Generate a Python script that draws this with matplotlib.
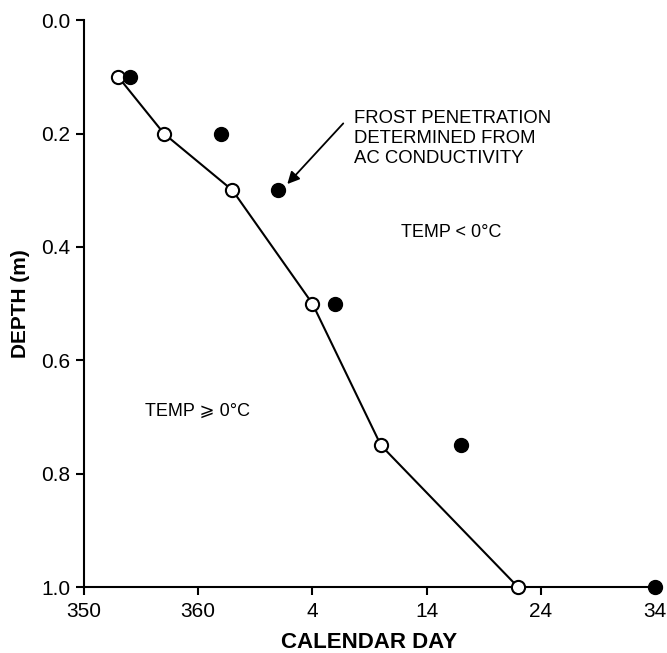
import matplotlib
matplotlib.use('Agg')
import matplotlib.pyplot as plt

plt.rcParams['font.family'] = ['Liberation Sans', 'DejaVu Sans']

# depth (m) of the frost front
depth = [0.1, 0.2, 0.3, 0.5, 0.75, 1.0]
# calendar days, temperature derived (open) and ac conductivity (filled)
temp_days = [353, 357, 363, 4, 10, 22]
ac_days = [354, 362, 367, 6, 17, 34]
tick_days = [350, 360, 4, 14, 24, 34]


def unwrap(days):
    # days after new year continue past 366
    return [d + 366 if d < 300 else d for d in days]


fig = plt.figure(figsize=(6.67, 6.53), dpi=100)
ax = fig.add_axes([0.126, 0.101, 0.856, 0.868])

ax.plot(unwrap(temp_days), depth, color='black', lw=1.5, zorder=2, clip_on=False)
ax.plot(unwrap(temp_days), depth, 'o', ms=9.5, mfc='white', mec='black', mew=1.5,
        zorder=3, clip_on=False)
ax.plot(unwrap(ac_days), depth, 'o', ms=10, color='black', zorder=3, clip_on=False)

ax.set_xlim(350, 400)
ax.set_ylim(1.0, 0.0)
ax.set_xticks(unwrap(tick_days))
ax.set_xticklabels([str(d) for d in tick_days])
ax.set_yticks([0.0, 0.2, 0.4, 0.6, 0.8, 1.0])
ax.set_yticklabels(['0.0', '0.2', '0.4', '0.6', '0.8', '1.0'])

for s in ['top', 'right']:
    ax.spines[s].set_visible(False)
for s in ['left', 'bottom']:
    ax.spines[s].set_linewidth(1.5)
ax.tick_params(direction='out', length=6, width=1.5, labelsize=15)
ax.tick_params(axis='x', pad=5)
ax.tick_params(axis='y', pad=4)

ax.set_xlabel('CALENDAR DAY', fontsize=16, fontweight='bold', labelpad=8)
ax.set_ylabel('DEPTH (m)', fontsize=15, fontweight='bold', labelpad=8)

ax.text(373.6, 0.158, 'FROST PENETRATION\nDETERMINED FROM\nAC CONDUCTIVITY',
        fontsize=13.3, linespacing=1.22, va='top', ha='left')
ax.annotate('', xy=(367.8, 0.289), xytext=(372.7, 0.182),
            arrowprops=dict(arrowstyle='-|>', color='black', lw=1.3,
                            shrinkA=0, shrinkB=0, mutation_scale=18))
ax.text(377.8, 0.374, 'TEMP < 0°C', fontsize=13, va='center')
ax.text(355.3, 0.69, 'TEMP ⩾ 0°C', fontsize=13, va='center')

fig.savefig('out.png', dpi=100)
